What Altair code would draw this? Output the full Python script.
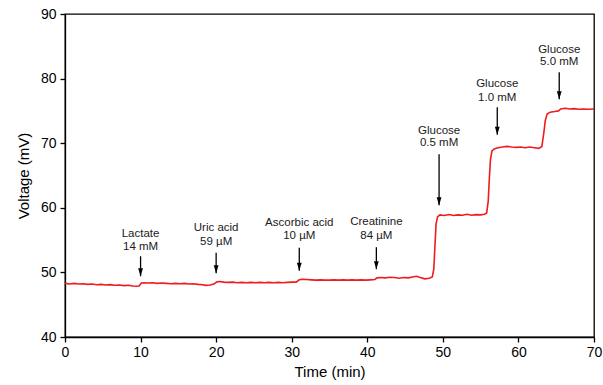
import altair as alt
import pandas as pd

# ---- trace (time in min, voltage in mV) ----
time_min = [0, 0.6, 1.2, 1.8, 2.4, 3.0, 3.6, 4.2, 4.8, 5.4, 6.0, 6.6, 7.2, 7.8, 8.4, 9.0, 9.5, 9.8,
            10.1, 10.4, 11.0, 11.6, 12.2, 12.8, 13.4, 14.0, 14.6, 15.2, 15.8, 16.4, 17.0, 17.6, 18.2, 18.6, 19.2, 19.7,
            20.1, 20.5, 21.0, 21.6, 22.2, 22.8, 23.4, 24.0, 24.6, 25.2, 25.8, 26.4, 27.0, 27.6, 28.2, 28.8, 29.4, 30.0, 30.6,
            31.0, 31.4, 32.0, 32.6, 33.2, 33.8, 34.4, 35.0, 35.6, 36.2, 36.8, 37.4, 38.0, 38.6, 39.2, 39.8, 40.4, 41.0,
            41.3, 41.8, 42.4, 43.0, 43.6, 44.2, 44.8, 45.4, 46.0, 46.5, 47.0, 47.6, 48.2, 48.6,
            48.8, 48.95, 49.1, 49.3, 49.6, 50.2, 50.8, 51.4, 52.0, 52.6, 53.2, 53.8, 54.4, 55.0, 55.5, 55.8,
            56.0, 56.15, 56.3, 56.5, 56.8, 57.3, 57.9, 58.5, 59.1, 59.7, 60.3, 60.9, 61.5, 62.1, 62.7, 63.1,
            63.35, 63.55, 63.8, 64.2, 64.8, 65.3, 65.6, 66.2, 66.8, 67.4, 68.0, 68.6, 69.2, 70.0]
voltage_mv = [48.3, 48.2, 48.3, 48.2, 48.25, 48.15, 48.2, 48.1, 48.15, 48.05, 48.1, 48.0, 48.05, 47.95, 48.0, 47.9, 47.85, 47.9,
              48.35, 48.4, 48.35, 48.4, 48.3, 48.35, 48.3, 48.25, 48.3, 48.25, 48.3, 48.2, 48.25, 48.15, 48.1, 48.0, 48.05, 48.2,
              48.55, 48.6, 48.5, 48.45, 48.5, 48.4, 48.45, 48.4, 48.45, 48.4, 48.45, 48.4, 48.45, 48.4, 48.45, 48.4, 48.45, 48.5, 48.5,
              48.85, 48.95, 48.9, 48.85, 48.8, 48.85, 48.8, 48.8, 48.85, 48.8, 48.85, 48.8, 48.85, 48.8, 48.85, 48.8, 48.85, 48.9,
              49.15, 49.2, 49.15, 49.25, 49.2, 49.1, 49.2, 49.15, 49.3, 49.4, 49.2, 49.0, 49.1, 49.3,
              50.5, 54.0, 57.5, 58.6, 58.9, 58.8, 58.95, 58.8, 58.9, 58.85, 59.0, 58.85, 58.95, 58.9, 59.0, 59.2,
              61.0, 64.5, 67.5, 68.8, 69.1, 69.3, 69.4, 69.5, 69.4, 69.35, 69.4, 69.3, 69.4, 69.3, 69.2, 69.5,
              71.5, 73.5, 74.5, 74.8, 74.9, 75.0, 75.3, 75.4, 75.3, 75.35, 75.25, 75.3, 75.25, 75.3]

# ---- annotations ----
ann_x = [10, 20, 31, 41.2, 49.5, 57.2, 65.4]
ann_line1 = ["Lactate", "Uric acid", "Ascorbic acid", "Creatinine", "Glucose", "Glucose", "Glucose"]
ann_line2 = ["14 mM", "59 µM", "10 µM", "84 µM", "0.5 mM", "1.0 mM", "5.0 mM"]
ann_y1 = [55.9, 56.9, 57.7, 57.75, 71.9, 79.2, 84.5]
ann_y2 = [53.9, 54.75, 55.6, 55.7, 70.0, 77.0, 82.5]
arrow_top = [52.5, 53.05, 53.8, 53.9, 68.3, 75.55, 81.0]
arrow_tip = [49.4, 49.85, 50.25, 50.5, 60.4, 71.3, 76.8]

trace = pd.DataFrame({"t": time_min, "v": voltage_mv})
ann = pd.DataFrame({"x": ann_x, "l1": ann_line1, "l2": ann_line2, "y1": ann_y1, "y2": ann_y2,
                    "top": arrow_top, "tip": arrow_tip})

FONT = "Liberation Sans"
xscale = alt.Scale(domain=[0, 70], nice=False, zero=False)
yscale = alt.Scale(domain=[40, 90], nice=False, zero=False)

xaxis = alt.Axis(title="Time (min)", values=[0, 10, 20, 30, 40, 50, 60, 70], grid=False,
                 labelFontSize=14, titleFontSize=15, labelPadding=3, titlePadding=5,
                 tickSize=5, labelFlush=False)
yaxis = alt.Axis(title="Voltage (mV)", values=[40, 50, 60, 70, 80, 90], grid=False,
                 labelFontSize=14, titleFontSize=15, labelPadding=4, titlePadding=9,
                 tickSize=5)

line = alt.Chart(trace).mark_line(color="#ee1c1c", strokeWidth=1.6).encode(
    x=alt.X("t:Q", scale=xscale, axis=xaxis),
    y=alt.Y("v:Q", scale=yscale, axis=yaxis),
)

rules = alt.Chart(ann).mark_rule(color="black", strokeWidth=1.3).encode(
    x="x:Q", y="top:Q", y2="tip:Q")

heads = alt.Chart(ann).mark_point(shape="M-0.6,-2L0.6,-2L0,0Z", filled=True, color="black",
                                  opacity=1, size=64).encode(x="x:Q", y="tip:Q")

t1 = alt.Chart(ann).mark_text(font=FONT, fontSize=11.5, color="#1a1a1a").encode(
    x="x:Q", y="y1:Q", text="l1:N")
t2 = alt.Chart(ann).mark_text(font=FONT, fontSize=11.5, color="#1a1a1a").encode(
    x="x:Q", y="y2:Q", text="l2:N")

chart = alt.layer(line, rules, heads, t1, t2).properties(
    width=529, height=323,
    padding={"left": 65, "top": 14, "right": 9, "bottom": 48},
    autosize=alt.AutoSizeParams(type="none"),
    background="white",
).configure_view(stroke="black", strokeWidth=1.3).configure_axis(
    labelFont=FONT, titleFont=FONT, labelColor="black", titleColor="black",
    domainColor="black", tickColor="black", domainWidth=1.3, tickWidth=1.3,
    titleFontWeight="normal",
)

chart.save("out.html", embed_options={"renderer": "svg", "actions": False})
